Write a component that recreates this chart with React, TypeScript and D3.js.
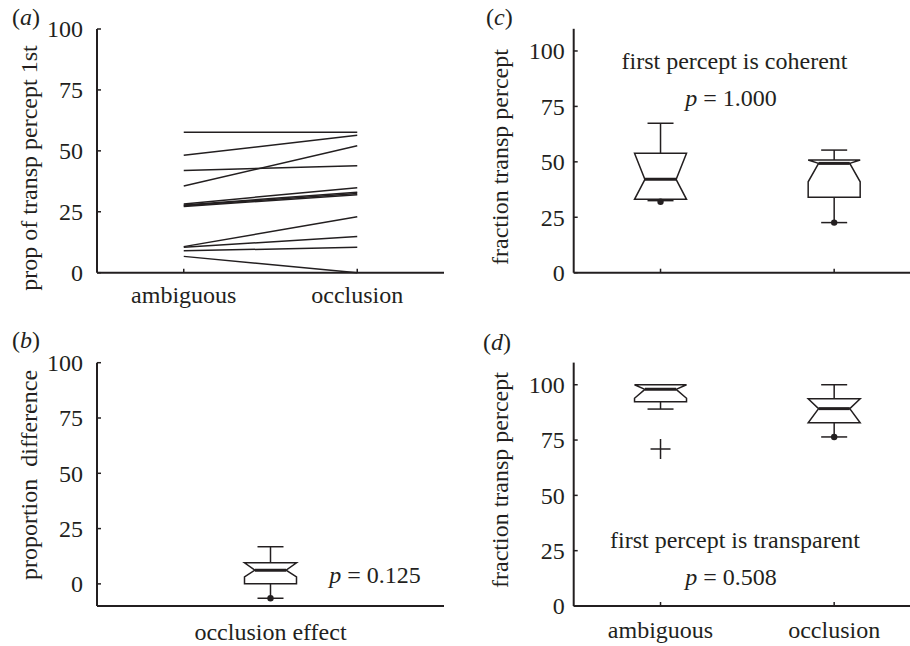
import React from "react";
import * as d3 from "d3";

const FONT = "'Liberation Serif', 'DejaVu Serif', serif";
const INK = "#231f20";

// panel (a): proportion of transparent percept first, one line per subject
const conditions = ["ambiguous", "occlusion"];
const ambiguousFirst = [57.6, 48.2, 35.6, 41.9, 28.2, 27.2, 27.5, 27.8, 10.7, 10.4, 9.0, 6.7];
const occlusionFirst = [57.6, 56.4, 52.1, 43.9, 34.9, 32.0, 32.5, 33.0, 23.0, 14.9, 10.4, 0];

const yTicks = [0, 25, 50, 75, 100];

// box stats: [whiskerLo, q1, notchLo, median, notchHi, q3, whiskerHi]
const effectBox = [-6.5, 0.1, 3.2, 6.2, 9.5, 9.5, 16.8];
const coherentBoxes = [
  [32.5, 33.1, 33.1, 42.1, 53.9, 53.9, 67.4],
  [22.6, 34.0, 41.0, 49.3, 50.8, 50.8, 55.3],
];
const transparentBoxes = [
  [89.0, 92.3, 93.9, 97.9, 100, 100, 100],
  [76.4, 82.8, 82.8, 89.2, 93.7, 93.7, 100],
];
// dot markers at lower end, NaN = none
const effectDot = [-6.5];
const coherentDots = [32.0, 22.6];
const transparentDots = [NaN, 76.4];
const transparentOutliers = [[70.9], []];

const txt = { style: { fontFamily: FONT, fontSize: "24px" }, fill: INK };

function YAxis({ y, x0, ticks, labelGap, label, labelX, top }) {
  return (
    <g>
      <line x1={x0} x2={x0} y1={y.range()[0]} y2={top} stroke={INK} strokeWidth={2} />
      {ticks.map((t) => (
        <g key={t}>
          <line x1={x0} x2={x0 + 4} y1={y(t)} y2={y(t)} stroke={INK} strokeWidth={1.5} />
          <text {...txt} x={x0 - labelGap} y={y(t)} dy="0.35em" textAnchor="end">
            {t}
          </text>
        </g>
      ))}
      <text
        {...txt}
        style={{ ...txt.style, whiteSpace: "pre" }}
        transform={`translate(${labelX},${label.cy}) rotate(-90)`}
        textAnchor="middle"
      >
        {label.text}
      </text>
    </g>
  );
}

function Box({ x, y, s, hw = 26, dot, outliers = [] }) {
  const [wLo, q1, nLo, med, nHi, q3, wHi] = s;
  const inset = hw * 0.4;
  const cap = hw / 2;
  const d = [
    [x - hw, y(q3)],
    [x + hw, y(q3)],
    [x + hw, y(nHi)],
    [x + hw - inset, y(med)],
    [x + hw, y(nLo)],
    [x + hw, y(q1)],
    [x - hw, y(q1)],
    [x - hw, y(nLo)],
    [x - hw + inset, y(med)],
    [x - hw, y(nHi)],
  ];
  return (
    <g stroke={INK} fill="none">
      {wHi > q3 && (
        <>
          <line x1={x} x2={x} y1={y(q3)} y2={y(wHi)} strokeWidth={1.5} />
          <line x1={x - cap} x2={x + cap} y1={y(wHi)} y2={y(wHi)} strokeWidth={1.5} />
        </>
      )}
      {wLo < q1 && (
        <>
          <line x1={x} x2={x} y1={y(q1)} y2={y(wLo)} strokeWidth={1.5} />
          <line x1={x - cap} x2={x + cap} y1={y(wLo)} y2={y(wLo)} strokeWidth={1.5} />
        </>
      )}
      <path d={d3.line()(d) + "Z"} fill="#fff" strokeWidth={1.5} />
      <line x1={x - hw + inset} x2={x + hw - inset} y1={y(med)} y2={y(med)} strokeWidth={3} />
      {!isNaN(dot) && <circle cx={x} cy={y(dot)} r={3.2} fill={INK} stroke="none" />}
      {outliers.map((o, i) => (
        <path key={i} d={`M${x - 10},${y(o)}H${x + 10}M${x},${y(o) - 10}V${y(o) + 10}`} strokeWidth={1.5} />
      ))}
    </g>
  );
}

function PValue({ x, y, value }) {
  return (
    <text {...txt} x={x} y={y} textAnchor="middle">
      <tspan fontStyle="italic">p</tspan> = {value}
    </text>
  );
}

function PanelLabel({ x, y, letter }) {
  return (
    <text {...txt} x={x} y={y}>
      (<tspan fontStyle="italic">{letter}</tspan>)
    </text>
  );
}

export default function App() {
  // panel a
  const xA = d3.scalePoint().domain(conditions).range([97, 444]).padding(0.5);
  const yA = d3.scaleLinear().domain([0, 100]).range([272.7, 29]);
  const lineA = d3.line();

  // panel b
  const xB = d3.scalePoint().domain(["occlusion effect"]).range([97, 444]).padding(0.5);
  const yB = d3.scaleLinear().domain([-10, 100]).range([606, 362.7]);

  // panel c
  const xC = d3.scalePoint().domain(conditions).range([573.7, 921]).padding(0.5);
  const yC = d3.scaleLinear().domain([0, 110]).range([272.7, 28.8]);

  // panel d
  const xD = xC.copy();
  const yD = d3.scaleLinear().domain([0, 110]).range([606, 362.6]);

  return (
    <svg
      width={910}
      height={646}
      style={{ position: "absolute", left: 0, top: 0, background: "#fff" }}
    >
      {/* (a) */}
      <PanelLabel x={12} y={25} letter="a" />
      <YAxis
        y={yA}
        x0={97}
        top={yA(100)}
        ticks={yTicks}
        labelGap={14}
        labelX={37}
        label={{ text: "prop of transp percept 1st", cy: 168 }}
      />
      <line x1={97} x2={444} y1={yA(0)} y2={yA(0)} stroke={INK} strokeWidth={2} />
      {conditions.map((c) => (
        <g key={c}>
          <line x1={xA(c)} x2={xA(c)} y1={yA(0)} y2={yA(0) - 4} stroke={INK} strokeWidth={1.5} />
          <text {...txt} x={xA(c)} y={303} textAnchor="middle">
            {c}
          </text>
        </g>
      ))}
      {ambiguousFirst.map((v, i) => (
        <path
          key={i}
          d={lineA([
            [xA("ambiguous"), yA(v)],
            [xA("occlusion"), yA(occlusionFirst[i])],
          ])}
          stroke={INK}
          strokeWidth={1.5}
          fill="none"
        />
      ))}

      {/* (b) */}
      <PanelLabel x={12} y={348} letter="b" />
      <YAxis
        y={yB}
        x0={97}
        top={yB(100)}
        ticks={yTicks}
        labelGap={14}
        labelX={37}
        label={{ text: "proportion  difference", cy: 475 }}
      />
      <line x1={97} x2={444} y1={yB(-10)} y2={yB(-10)} stroke={INK} strokeWidth={2} />
      <text {...txt} x={xB("occlusion effect")} y={640} textAnchor="middle">
        occlusion effect
      </text>
      <Box x={xB("occlusion effect")} y={yB} s={effectBox} dot={effectDot[0]} />
      <PValue x={375} y={583} value="0.125" />

      {/* (c) */}
      <PanelLabel x={486} y={25} letter="c" />
      <YAxis
        y={yC}
        x0={573.7}
        top={yC(110)}
        ticks={yTicks}
        labelGap={9}
        labelX={508}
        label={{ text: "fraction transp percept", cy: 157 }}
      />
      <line x1={573.7} x2={921} y1={yC(0)} y2={yC(0)} stroke={INK} strokeWidth={2} />
      {conditions.map((c, i) => (
        <g key={c}>
          <line x1={xC(c)} x2={xC(c)} y1={yC(0)} y2={yC(0) - 4} stroke={INK} strokeWidth={1.5} />
          <Box x={xC(c)} y={yC} s={coherentBoxes[i]} dot={coherentDots[i]} />
        </g>
      ))}
      <text {...txt} x={734.5} y={69} textAnchor="middle">
        first percept is coherent
      </text>
      <PValue x={731} y={106} value="1.000" />

      {/* (d) */}
      <PanelLabel x={483} y={350} letter="d" />
      <YAxis
        y={yD}
        x0={573.7}
        top={yD(110)}
        ticks={yTicks}
        labelGap={9}
        labelX={508}
        label={{ text: "fraction transp percept", cy: 480 }}
      />
      <line x1={573.7} x2={921} y1={yD(0)} y2={yD(0)} stroke={INK} strokeWidth={2} />
      {conditions.map((c, i) => (
        <g key={c}>
          <line x1={xD(c)} x2={xD(c)} y1={yD(0)} y2={yD(0) - 4} stroke={INK} strokeWidth={1.5} />
          <text {...txt} x={xD(c)} y={638} textAnchor="middle">
            {c}
          </text>
          <Box
            x={xD(c)}
            y={yD}
            s={transparentBoxes[i]}
            dot={transparentDots[i]}
            outliers={transparentOutliers[i]}
          />
        </g>
      ))}
      <text {...txt} x={735} y={548} textAnchor="middle">
        first percept is transparent
      </text>
      <PValue x={731} y={585} value="0.508" />
    </svg>
  );
}
